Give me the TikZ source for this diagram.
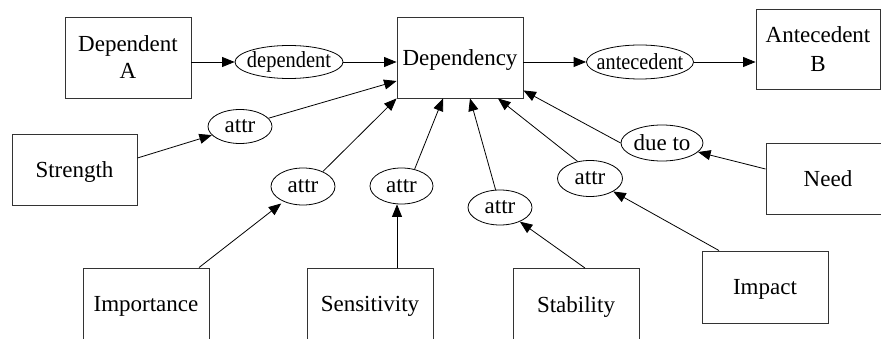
\documentclass[tikz,border=0pt]{standalone}
\usepackage{fontspec}
\setmainfont{Liberation Serif}
\usetikzlibrary{arrows.meta,shapes.geometric}
\begin{document}
\begin{tikzpicture}[x=1pt,y=-1pt,
  every node/.style={font=\fontsize{23}{27}\selectfont, inner sep=0pt},
  entity/.style={draw=black!80, line width=0.9pt, minimum width=126pt,
                 minimum height=72pt, align=center},
  oneline/.style={text depth=0pt},
  role/.style={draw=black, line width=0.8pt, ellipse,
               minimum width=64pt, minimum height=35pt},
  link/.style={draw=black, line width=0.8pt,
               -{Triangle[length=12.5pt,width=10pt]}}]
\useasboundingbox (0,0) rectangle (881,339);
\clip (0,0) rectangle (881,339);

% concept boxes
\node[entity, minimum height=81pt] (depA) at (128,57.5) {Dependent\\A};
\node[entity, oneline, minimum height=81pt] (dep) at (460,57.5) {Dependency};
\node[entity, minimum width=124pt, minimum height=80pt] (antB) at (818,49) {Antecedent\\[2pt]B};
\node[entity, oneline, minimum width=125pt, minimum height=71pt] (str) at (74.5,169.5) {Strength};
\node[entity, oneline, minimum width=124pt, minimum height=71pt] (need) at (828,178.5) {Need};
\node[entity, oneline] (imp) at (765,287) {Impact};
\node[entity, oneline] (impo) at (146,304) {Importance};
\node[entity, oneline] (sens) at (370,304) {Sensitivity};
\node[entity, oneline] (stab) at (576,304.5) {Stability};

% relation ovals
\node[role, minimum width=108pt, minimum height=33pt] (del) at (289,62)
  {\makebox[0pt]{\scalebox{0.89}[1]{dependent}}};
\node[role, minimum width=107pt, minimum height=34pt] (ant) at (640,62)
  {\makebox[0pt]{\scalebox{0.88}[1]{antecedent}}};
\node[role, minimum height=34pt] (aS) at (240,126.5) {attr};
\node[role, minimum height=37pt] (aI) at (303,186.5) {attr};
\node[role, minimum width=63pt, minimum height=36pt] (aSe) at (401.5,186) {attr};
\node[role] (aSt) at (500,207.5) {attr};
\node[role, minimum width=65pt, minimum height=36pt] (aIm) at (590,178.5) {attr};
\node[role, minimum width=82pt, minimum height=36pt] (due) at (662,143)
  {\makebox[0pt]{due to}};

% connectors
\draw[link] (depA.east |- del.west) -- (del.west);
\draw[link] (del.east) -- (dep.west |- del.east);
\draw[link] (dep.east |- ant.west) -- (ant.west);
\draw[link] (ant.east) -- (antB.west |- ant.east);
\draw[link] ([yshift=11.5pt]str.east) -- (aS);
\draw[link] (aS) -- ([yshift=-23.5pt]dep.west);
\draw[link] (aI.37) -- (dep.south west);
\draw[link] (aSe.52) -- ([xshift=-17pt]dep.south);
\draw[link] (aSt.104) -- ([xshift=10pt]dep.south);
\draw[link] (aIm.126) -- ([xshift=38pt]dep.south);
\draw[link] (due.west) -- ([yshift=8pt]dep.south east);
\draw[link] ([yshift=9.5pt]need.west) -- (due);
\draw[link] ([xshift=-46pt]imp.north) -- (aIm);
\draw[link] ([xshift=9pt]stab.north) -- (aSt);
\draw[link] ([xshift=27pt]sens.north) -- ([xshift=27pt]sens.north |- aSe.south);
\draw[link, shorten >=3pt] ([xshift=53pt]impo.north) -- (aI);
\end{tikzpicture}
\end{document}
